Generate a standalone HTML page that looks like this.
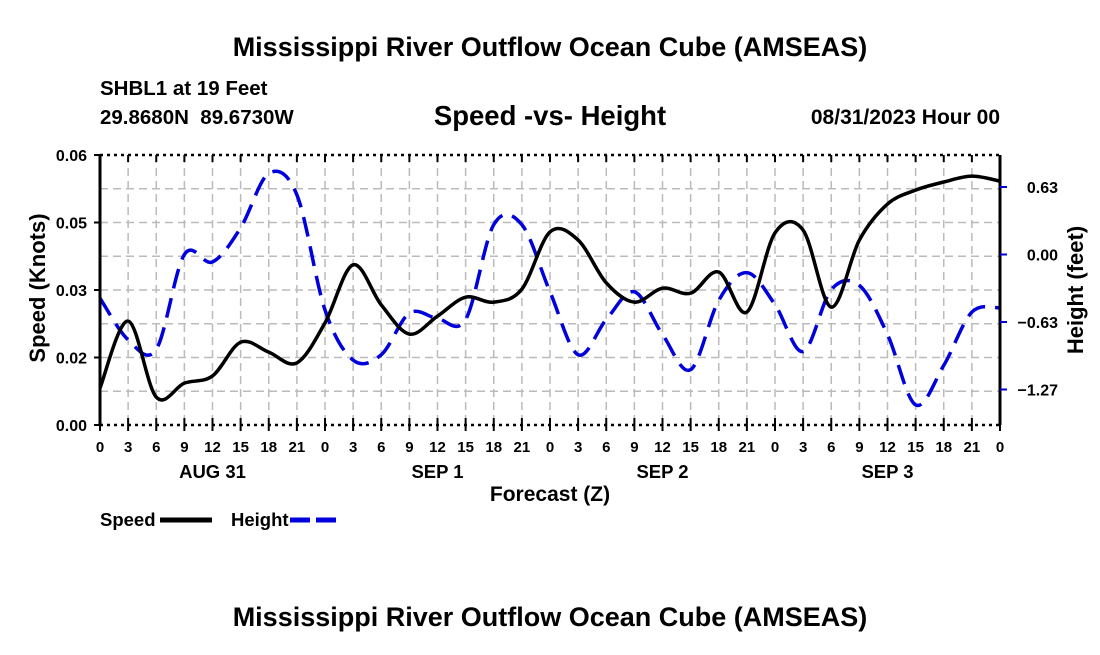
<!DOCTYPE html>
<html><head><meta charset="utf-8"><style>
body{margin:0;background:#fff;}
svg text{font-family:"Liberation Sans",Arial,sans-serif;font-weight:bold;fill:#000;}
</style></head><body>
<svg id="chart" width="1100" height="650" viewBox="0 0 1100 650" xmlns="http://www.w3.org/2000/svg">
<rect width="1100" height="650" fill="#fff"/>
<text x="550" y="56" font-size="27" text-anchor="middle">Mississippi River Outflow Ocean Cube (AMSEAS)</text>
<text x="100" y="95" font-size="20.5">SHBL1 at 19 Feet</text>
<text x="100" y="124" font-size="20.5" xml:space="preserve">29.8680N  89.6730W</text>
<text x="550" y="125" font-size="27.5" text-anchor="middle">Speed -vs- Height</text>
<text x="1000" y="124" font-size="21" text-anchor="end">08/31/2023 Hour 00</text>
<g id="grid"></g>
<g id="series"></g>
<g id="axes"></g>
<text transform="translate(45,288) rotate(-90)" font-size="22" text-anchor="middle">Speed (Knots)</text>
<text transform="translate(1083,290) rotate(-90)" font-size="22" text-anchor="middle">Height (feet)</text>
<text x="550" y="501" font-size="21" text-anchor="middle">Forecast (Z)</text>
<g>
<text x="100" y="526" font-size="18.5">Speed</text>
<line x1="160" y1="520" x2="212" y2="520" stroke="#000" stroke-width="5"/>
<text x="231" y="526" font-size="18.5">Height</text>
<line x1="290" y1="520" x2="342" y2="520" stroke="#0000dd" stroke-width="5" stroke-dasharray="20,6"/>
</g>
<text x="550" y="626" font-size="27" text-anchor="middle">Mississippi River Outflow Ocean Cube (AMSEAS)</text>
</svg>
<script>
const hours = [0,3,6,9,12,15,18,21,24,27,30,33,36,39,42,45,48,51,54,57,60,63,66,69,72,75,78,81,84,87,90,93,96];
const speedValues = [0.0082,0.0231,0.0062,0.0093,0.0109,0.0184,0.0162,0.0138,0.0227,0.0356,0.0267,0.0202,0.0242,0.0284,0.0273,0.0302,0.0429,0.0411,0.0316,0.0273,0.0304,0.0293,0.0340,0.0251,0.0427,0.0433,0.0262,0.0411,0.0491,0.0522,0.0540,0.0553,0.0542];
const heightValues = [-0.41,-0.80,-0.89,0.00,-0.07,0.25,0.76,0.56,-0.52,-0.99,-0.94,-0.55,-0.60,-0.61,0.28,0.28,-0.35,-0.94,-0.61,-0.35,-0.75,-1.08,-0.43,-0.17,-0.47,-0.91,-0.33,-0.29,-0.75,-1.41,-1.04,-0.54,-0.50];
const leftTicks = [0,0.015,0.03,0.045,0.06];
const leftTickLabels = ["0.00","0.02","0.03","0.05","0.06"];
const rightTicks = [0.633,0,-0.633,-1.266];
const rightTickLabels = ["0.63","0.00","\u22120.63","\u22121.27"];
const xTickLabels = ["0","3","6","9","12","15","18","21"];
const dayLabels = ["AUG 31","SEP 1","SEP 2","SEP 3"];

const X0=100,X1=1000,Y0=425,Y1=155;
const xs = h => X0 + h*(X1-X0)/96;
const ys = v => Y0 - v*(Y0-Y1)/0.06;
const yh = v => 254.5 - v*67.5/0.633;
const NS="http://www.w3.org/2000/svg";
function mk(parent,tag,attrs){const e=document.createElementNS(NS,tag);for(const k in attrs)e.setAttribute(k,attrs[k]);document.getElementById(parent).appendChild(e);return e;}

for(let i=1;i<32;i++){const x=xs(i*3);
 const l=mk('grid','line',{x1:x,y1:Y1,x2:x,y2:Y0,stroke:'#bbb','stroke-width':1.5,'stroke-dasharray':'8,5'});
 
 }
for(let i=1;i<8;i++){const y=Y1+i*(Y0-Y1)/8;
 const l=mk('grid','line',{x1:X0,y1:y,x2:X1,y2:y,stroke:'#bbb','stroke-width':1.5,'stroke-dasharray':'8,5'});
 
 }

function smooth(pts){let d=`M${pts[0][0]},${pts[0][1]}`;
 for(let i=0;i<pts.length-1;i++){const p0=pts[Math.max(i-1,0)],p1=pts[i],p2=pts[i+1],p3=pts[Math.min(i+2,pts.length-1)];
  const c1=[p1[0]+(p2[0]-p0[0])/6,p1[1]+(p2[1]-p0[1])/6],c2=[p2[0]-(p3[0]-p1[0])/6,p2[1]-(p3[1]-p1[1])/6];
  d+=` C${c1[0]},${c1[1]} ${c2[0]},${c2[1]} ${p2[0]},${p2[1]}`;}
 return d;}
const hp=mk('series','path',{d:smooth(hours.map((h,i)=>[xs(h),yh(heightValues[i])])),fill:'none',stroke:'#0000dd','stroke-width':3.5,'stroke-dasharray':'20,10'});


const sp=mk('series','path',{d:smooth(hours.map((h,i)=>[xs(h),ys(speedValues[i])])),fill:'none',stroke:'#000','stroke-width':3.5});



[[X0,Y1,X0,Y0,3],[X1,Y1,X1,Y0,3]].forEach(a=>{const l=mk('axes','line',{x1:a[0],y1:a[1],x2:a[2],y2:a[3],stroke:'#000','stroke-width':a[4]});
 
 });
[Y1,Y0].forEach(y=>{const l=mk('axes','line',{x1:X0,y1:y,x2:X1,y2:y,stroke:'#000','stroke-width':2.5,'stroke-dasharray':'3,4'});
 
 });
for(let i=0;i<=32;i++){const x=xs(i*3);
 [[Y1,Y1+7],[Y0-7,Y0+6]].forEach(p=>{const t=mk('axes','line',{x1:x,y1:p[0],x2:x,y2:p[1],stroke:'#000','stroke-width':2});
 
 });
 const tl=mk('axes','text',{x:x,y:452,'font-size':15,'text-anchor':'middle'});
 tl.textContent = i===32? "0" : xTickLabels[i%8];
 
 }
dayLabels.forEach((d,i)=>{const t=mk('axes','text',{x:xs(12+24*i),y:478,'font-size':18.5,'text-anchor':'middle'});
 t.textContent=d;
 
 });
leftTicks.forEach((v,i)=>{const y=ys(v);
 const t=mk('axes','line',{x1:X0-6,y1:y,x2:X0,y2:y,stroke:'#000','stroke-width':2});
 
 
 const tl=mk('axes','text',{x:87,y:y+6,'font-size':16,'text-anchor':'end'});
 tl.textContent=leftTickLabels[i];
 
 });
rightTicks.forEach((v,i)=>{const y=yh(v);
 const t=mk('axes','line',{x1:X1,y1:y,x2:X1+7,y2:y,stroke:'#0000dd','stroke-width':2});
 
 
 const tl=mk('axes','text',{x:1058,y:y+6,'font-size':16,'text-anchor':'end'});
 tl.textContent=rightTickLabels[i];
 
 });
</script>
</body></html>
